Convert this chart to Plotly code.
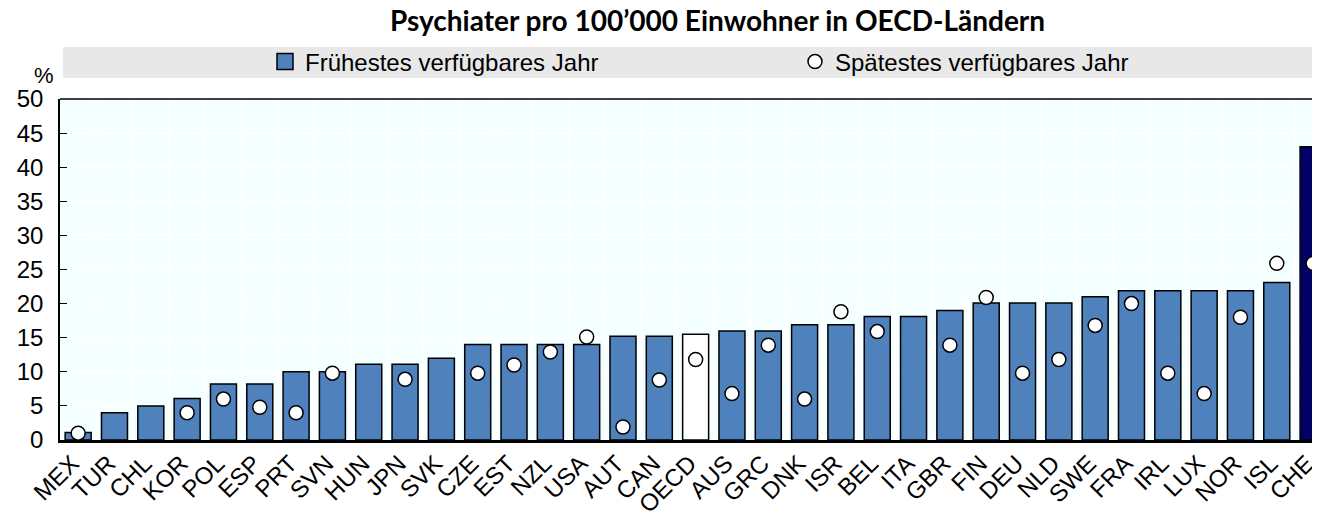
import plotly.graph_objects as go

countries = ["MEX", "TUR", "CHL", "KOR", "POL", "ESP", "PRT", "SVN", "HUN", "JPN", "SVK", "CZE",
             "EST", "NZL", "USA", "AUT", "CAN", "OECD", "AUS", "GRC", "DNK", "ISR", "BEL", "ITA",
             "GBR", "FIN", "DEU", "NLD", "SWE", "FRA", "IRL", "LUX", "NOR", "ISL", "CHE"]
earliest = [1.1, 4.0, 5.0, 6.1, 8.2, 8.2, 10.0, 10.0, 11.1, 11.1, 12.0, 14.0,
            14.0, 14.0, 14.0, 15.2, 15.2, 15.5, 16.0, 16.0, 16.9, 16.9, 18.1, 18.1,
            19.0, 20.1, 20.1, 20.1, 21.0, 21.9, 21.9, 21.9, 21.9, 23.1, 43.0]
latest = [1.0, None, None, 4.0, 6.0, 4.8, 4.0, 9.8, None, 8.9, None, 9.8,
          11.0, 12.9, 15.1, 1.9, 8.8, 11.8, 6.8, 13.9, 6.0, 18.8, 15.9, None,
          13.9, 20.9, 9.8, 11.8, 16.8, 20.0, 9.8, 6.8, 18.0, 25.9, 25.9]
y_ticks = [0, 5, 10, 15, 20, 25, 30, 35, 40, 45, 50]

BLUE = "#4F81BD"
bar_colors = ["#000066" if c == "CHE" else "white" if c == "OECD" else BLUE for c in countries]

# page body has an 8px margin, so the figure is 8px smaller than the window
OFF = 8
W, H = 1320 - OFF, 515 - OFF
L, R, T, B = 60 - OFF, 0, 99 - OFF, 75
pw, ph = W - L - R, H - T - B
font = "Liberation Sans, Arial, sans-serif"


def px_x(x):  # page pixel -> paper x
    return (x - 60) / pw


def px_y(y):  # page pixel -> paper y
    return 1 + (99 - y) / ph


fig = go.Figure()
fig.add_trace(go.Bar(x=countries, y=earliest, marker=dict(color=bar_colors, line=dict(color="black", width=1.5)),
                     showlegend=False))
fig.add_trace(go.Scatter(x=countries, y=latest, mode="markers", name="Spätestes verfügbares Jahr",
                         marker=dict(symbol="circle", size=14, color="white", line=dict(color="black", width=1.5)),
                         legend="legend2"))
# legend-only entry for the bars
fig.add_trace(go.Scatter(x=[None], y=[None], mode="markers", name="Frühestes verfügbares Jahr",
                         marker=dict(symbol="square", size=18, color=BLUE, line=dict(color="black", width=1.5)),
                         legend="legend"))

fig.update_layout(
    width=W, height=H, margin=dict(l=L, r=R, t=T, b=B),
    paper_bgcolor="white", plot_bgcolor="#F4FFFF",
    font=dict(family=font, size=24, color="black"),
    title=dict(text="<b>Psychiater pro 100’000 Einwohner in OECD-Ländern</b>", xref="paper", x=px_x(717.5),
               xanchor="center", y=1 - (21 - OFF) / H, yanchor="middle", font=dict(family="Lato, sans-serif", size=28)),
    bargap=0.284,
    legend=dict(orientation="h", x=px_x(265), xanchor="left", y=px_y(62), yanchor="middle",
                bgcolor="rgba(0,0,0,0)", font=dict(size=24)),
    legend2=dict(orientation="h", x=px_x(795), xanchor="left", y=px_y(62), yanchor="middle",
                 bgcolor="rgba(0,0,0,0)", font=dict(size=24)),
    shapes=[
        dict(type="rect", xref="paper", yref="paper", x0=px_x(63), x1=1, y0=px_y(78), y1=px_y(47),
             fillcolor="#E8E8E8", line=dict(width=0), layer="below"),
        dict(type="line", xref="paper", yref="paper", x0=0, x1=1, y0=1, y1=1, line=dict(color="black", width=1.5)),
    ],
    annotations=[dict(text="%", xref="paper", yref="paper", x=px_x(44), y=px_y(75), showarrow=False,
                      xanchor="center", yanchor="middle", font=dict(size=22))],
)
fig.update_xaxes(range=[-0.5, 34.19], tickangle=-45, tickson="boundaries", showgrid=True, gridcolor="white",
                 gridwidth=1.5, ticks="", showline=True, linecolor="black", linewidth=3, tickfont=dict(size=24),
                 ticklabelshift=-6, ticklabelstandoff=-3, automargin=False)
fig.update_yaxes(range=[0, 50], tickvals=y_ticks, showgrid=True, gridcolor="white", gridwidth=1.5,
                 ticks="inside", ticklen=7, tickcolor="black", showline=True, linecolor="black", linewidth=1.5,
                 zeroline=False, tickfont=dict(size=24), ticklabelstandoff=10, automargin=False)

fig.write_html("out.html")
